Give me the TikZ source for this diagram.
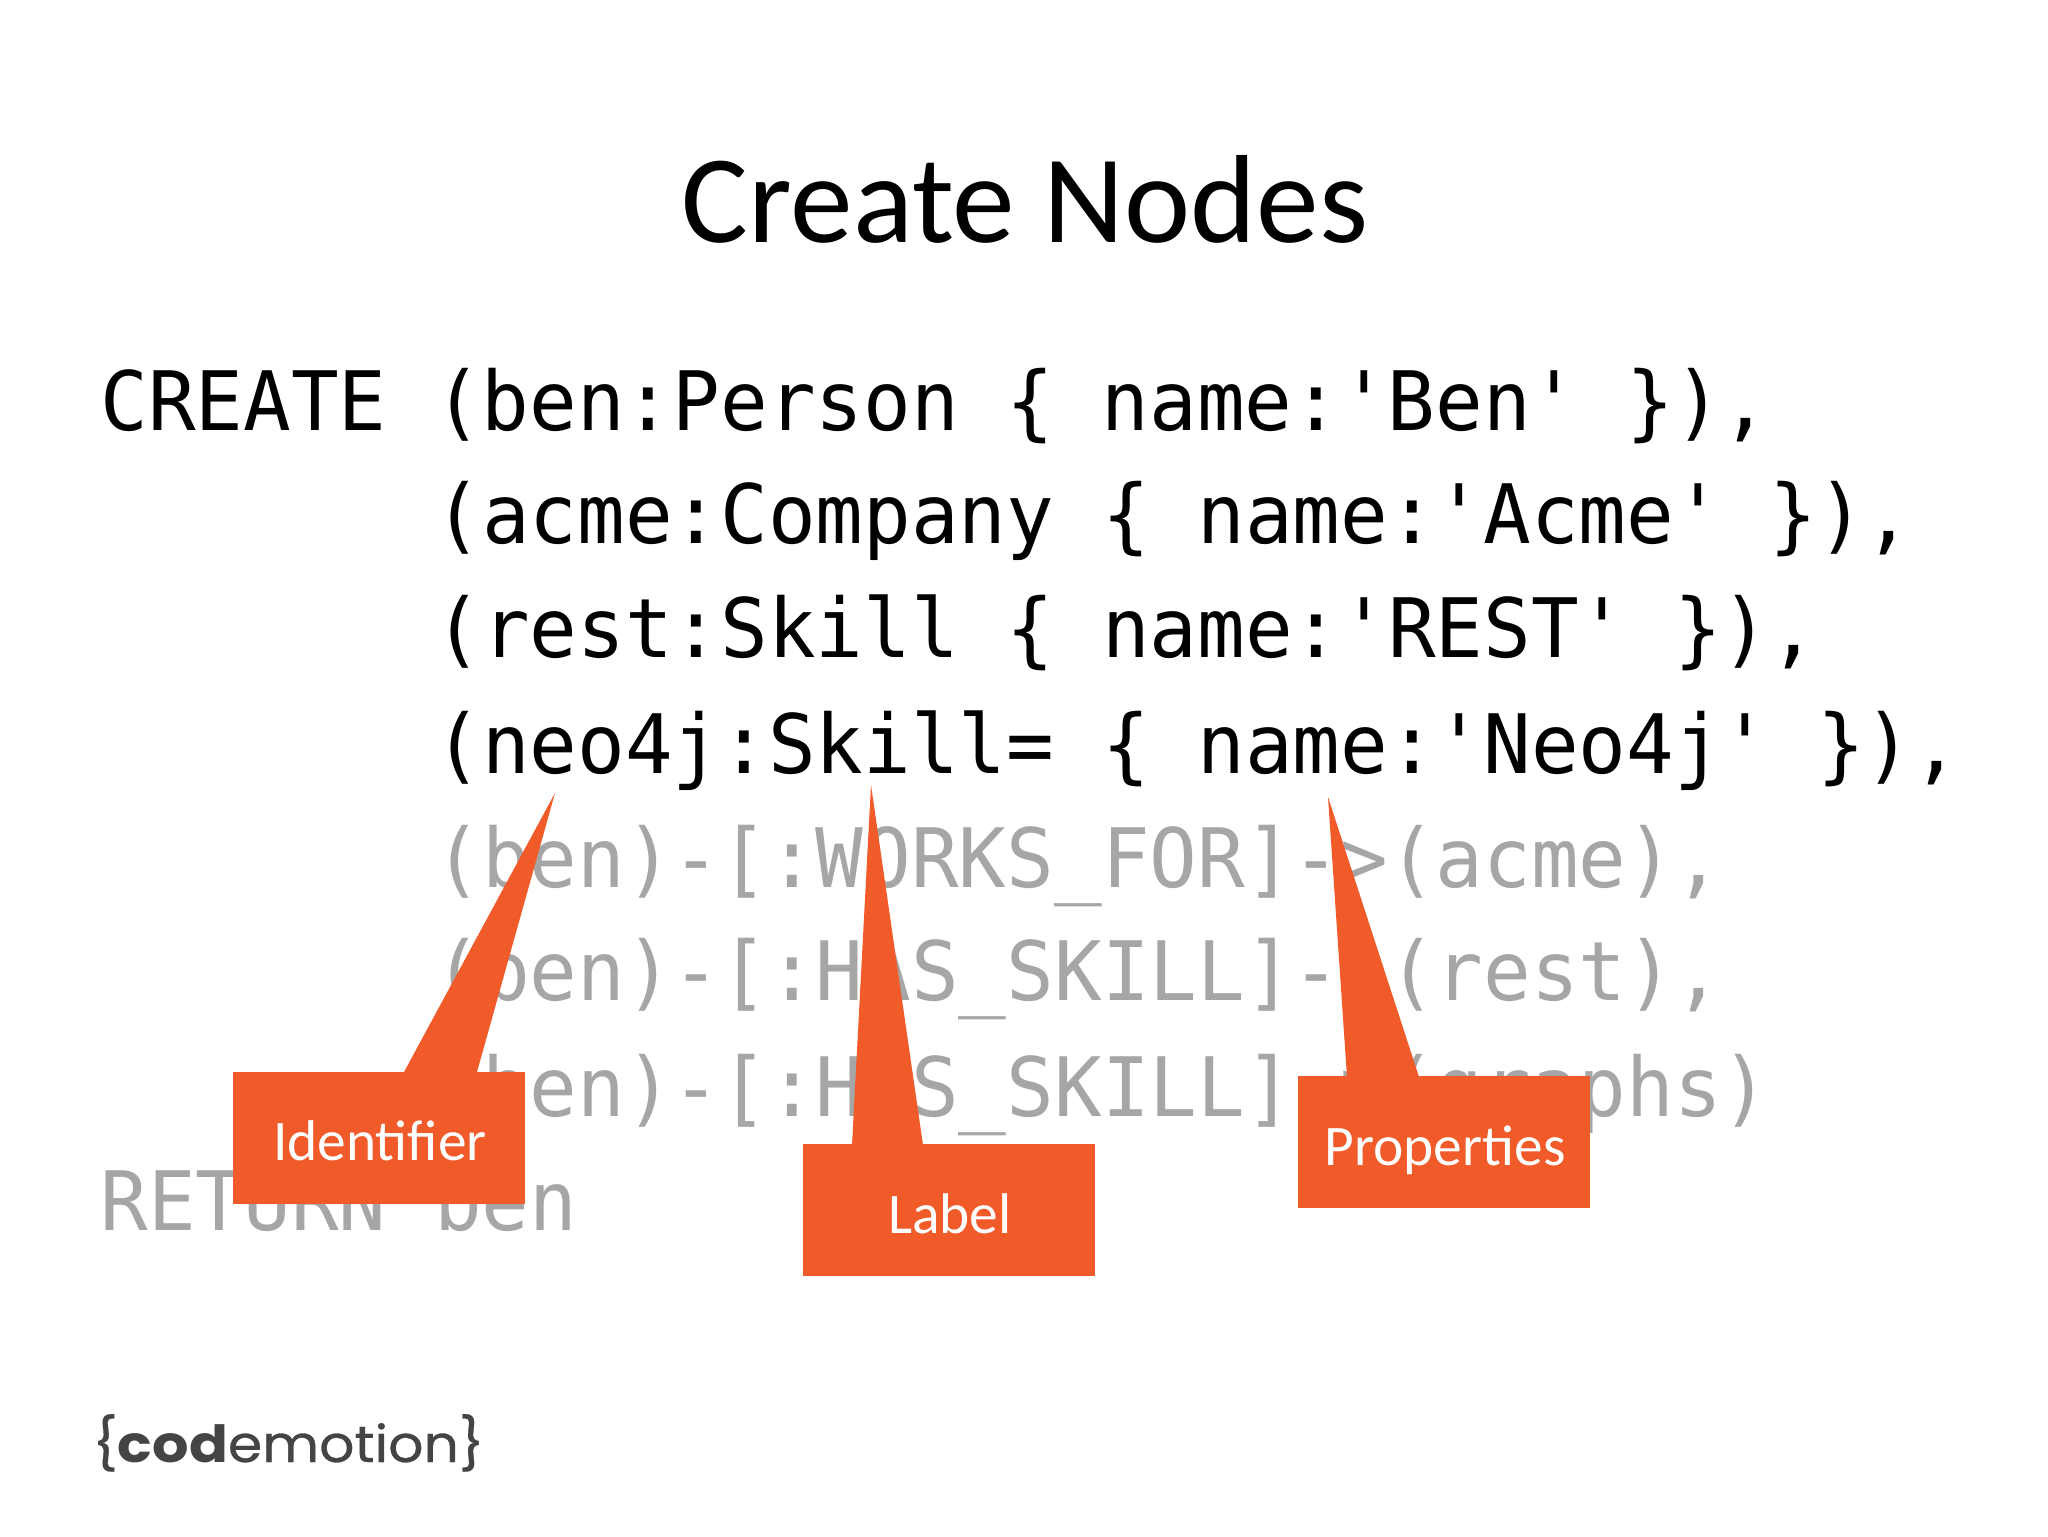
\documentclass[tikz,border=0pt]{standalone}
\usepackage{fontspec}
\setmainfont{Carlito}
\newfontfamily\codefont[FakeStretch=0.966]{DejaVu Sans Mono}
\newfontfamily\logoreg[FakeBold=0.6,FakeStretch=1.08]{Poppins}
\newfontfamily\logobold[FakeStretch=1.12]{Poppins Bold}
\definecolor{callout}{HTML}{F15A29}
\definecolor{fadetext}{HTML}{A6A6A6}
\definecolor{logogrey}{HTML}{444444}
\tikzset{
  px/.style={x=0.5pt,y=-0.5pt},
  codeline/.style={anchor=base west,inner sep=0pt,font=\codefont\fontsize{41}{41}\selectfont,text=black},
  fadeline/.style={codeline,text=fadetext},
  calloutbox/.style={fill=callout,draw=none,inner sep=0pt,minimum width=146pt,minimum height=66pt},
  callouttext/.style={anchor=base,inner sep=0pt,text=white,font=\fontsize{28.7}{28.7}\selectfont},
  titletext/.style={anchor=base,inner sep=0pt,font=\fontsize{62.7}{62.7}\selectfont}
}
\begin{document}
\begin{tikzpicture}[px]
\useasboundingbox (0,0) rectangle (2048,1536);
\fill[white] (0,0) rectangle (2048,1536);
\node[titletext] (title) at (1025,242) {Create Nodes};
\node[codeline] (l1) at (100,430) {CREATE (ben:Person \{ name:'Ben' \}),};
\node[codeline] (l2) at (434,543) {(acme:Company \{ name:'Acme' \}),};
\node[codeline] (l3) at (434,657) {(rest:Skill \{ name:'REST' \}),};
\node[codeline] (l4) at (434,773) {(neo4j:Skill= \{ name:'Neo4j' \}),};
\node[fadeline] (l5) at (434,887) {(ben)-[:WORKS\_FOR]->(acme),};
\node[fadeline] (l6) at (434,1000) {(ben)-[:HAS\_SKILL]->(rest),};
\node[fadeline] (l7) at (434,1116) {(ben)-[:HAS\_SKILL]->(graphs)};
\node[fadeline] (l8) at (100,1230) {RETURN ben};
% callouts
\node[calloutbox] (idbox) at (378.5,1137.5) {};
\node[calloutbox] (labelbox) at (949,1210) {};
\node[calloutbox] (propbox) at (1444,1142) {};
\coordinate (idtip) at (555,793);
\coordinate (labeltip) at (871,785);
\coordinate (proptip) at (1328,797);
\fill[callout] (idtip) -- (404,1072) -- (477,1072) -- cycle;
\fill[callout] (labeltip) -- (852,1145) -- (923,1145) -- cycle;
\fill[callout] (proptip) -- (1347,1077) -- (1419,1077) -- cycle;
\node[callouttext] (idtext) at (380,1160) {Identifier};
\node[callouttext] (labeltext) at (950,1233) {Label};
\node[callouttext] (proptext) at (1445,1165) {Properties};
% logo
\node[anchor=base west,inner sep=0pt,text=logogrey] (logo) at (92,1462)
  {\resizebox{196pt}{!}{\fontsize{24}{24}\selectfont\logoreg\{{\logobold cod}emotion\}}};
\end{tikzpicture}
\end{document}
